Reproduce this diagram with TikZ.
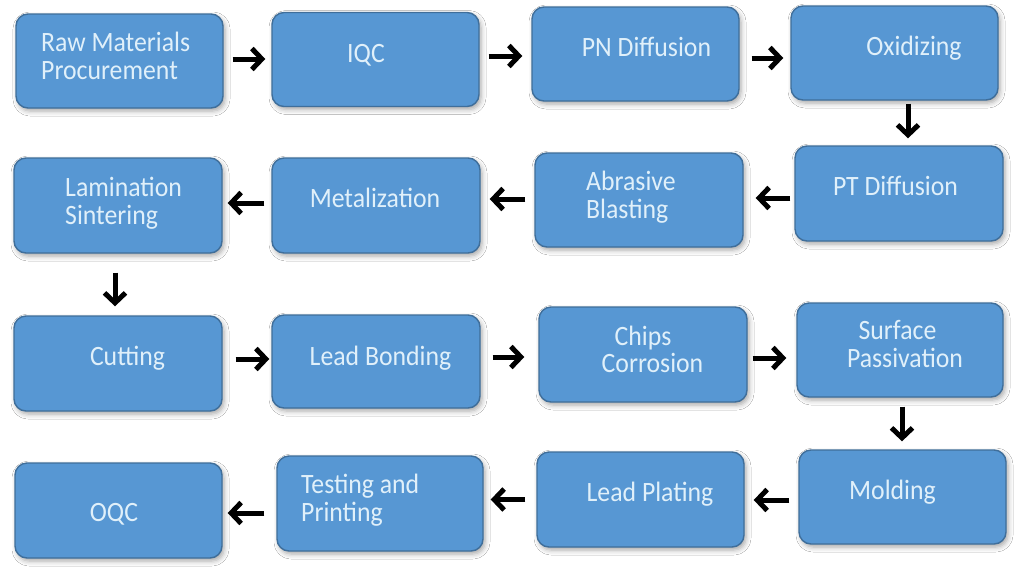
\documentclass[tikz,border=0pt]{standalone}
\usepackage{fontspec}
\setmainfont{Carlito}[FakeStretch=0.92]
\usetikzlibrary{arrows.meta,calc,shadows.blur}
\definecolor{boxfill}{HTML}{5797D3}
\definecolor{boxline}{HTML}{3F6E9A}
\definecolor{boxtext}{HTML}{E0F0FA}
\tikzset{
  procbox/.style={draw=boxline, line width=1.4pt, fill=boxfill, rounded corners=12pt,
    minimum width=207pt, minimum height=94pt, inner sep=0pt,
    blur shadow={shadow xshift=2pt, shadow yshift=-3pt, shadow blur radius=5pt, shadow opacity=35}},
  txt/.style={text=boxtext, font=\fontsize{28}{28}\selectfont, inner sep=0pt, yshift=-6.5pt},
  arr/.style={line width=5pt, -{Straight Barb[length=10pt,width=21pt,line width=5pt]}}
}
\begin{document}
\begin{tikzpicture}[x=1pt,y=-1pt]
\useasboundingbox[fill=white] (0,0) rectangle (1024,568);
% boxes
\node[procbox] (rm)   at (119.5,61)   {};
\node[procbox] (iqc)  at (375.5,59.5) {};
\node[procbox] (pn)   at (635.5,54)   {};
\node[procbox] (ox)   at (894.5,53)   {};
\node[procbox, minimum width=208pt, minimum height=95pt] (pt)   at (899,193.5)  {};
\node[procbox, minimum width=208pt] (ab)   at (639,200)    {};
\node[procbox, minimum width=208pt, minimum height=95pt] (met)  at (376,205.5)  {};
\node[procbox, minimum width=208pt, minimum height=95pt] (lam)  at (118,205.5)  {};
\node[procbox, minimum width=208pt, minimum height=95pt] (cut)  at (118,363.5)  {};
\node[procbox, minimum width=208pt, minimum height=93pt] (lb)   at (376,361.5)  {};
\node[procbox, minimum width=208pt, minimum height=95pt] (cc)   at (643,354.5)  {};
\node[procbox, minimum width=206pt] (sp)   at (900,350)    {};
\node[procbox] (mold) at (902.5,497)  {};
\node[procbox, minimum height=95pt] (lp)   at (640.5,499.5) {};
\node[procbox, minimum width=206pt, minimum height=95pt] (tp)   at (380,503.5)  {};
\node[procbox, minimum height=95pt] (oqc)  at (118.5,510.5) {};
% texts
\node[txt, anchor=mid west] (rm-t1) at (41,43) {Raw Materials};
\node[txt, anchor=mid west] (rm-t2) at (41,71) {Procurement};
\node[txt, anchor=mid] (iqc-t) at (366,54) {IQC};
\node[txt, anchor=mid] (pn-t) at (646.5,48) {PN Diffusion};
\node[txt, anchor=mid] (ox-t) at (914,47) {Oxidizing};
\node[txt, anchor=mid] (pt-t) at (895.5,187) {PT Diffusion};
\node[txt, anchor=mid west] (ab-t1) at (586,182) {Abrasive};
\node[txt, anchor=mid west] (ab-t2) at (586,210) {Blasting};
\node[txt, anchor=mid] (met-t) at (375,199) {Metalization};
\node[txt, anchor=mid west] (lam-t1) at (65,188) {Lamination};
\node[txt, anchor=mid west] (lam-t2) at (65,216) {Sintering};
\node[txt, anchor=mid] (cut-t) at (127.5,357) {Cutting};
\node[txt, anchor=mid] (lb-t) at (380.5,357) {Lead Bonding};
\node[txt, anchor=mid] (cc-t1) at (643,337) {Chips};
\node[txt, anchor=mid] (cc-t2) at (652.5,364) {Corrosion};
\node[txt, anchor=mid] (sp-t1) at (897.5,331) {Surface};
\node[txt, anchor=mid] (sp-t2) at (905,359) {Passivation};
\node[txt, anchor=mid] (mold-t) at (892.5,491) {Molding};
\node[txt, anchor=mid] (lp-t) at (650,493) {Lead Plating};
\node[txt, anchor=mid west] (tp-t1) at (301,485) {Testing and};
\node[txt, anchor=mid west] (tp-t2) at (301,513) {Printing};
\node[txt, anchor=mid] (oqc-t) at (114,513) {OQC};
% arrows
\draw[arr] ($(rm.east)+(9,-2)$) -- ($(rm.east -| iqc.west)+(-6,-2)$);
\draw[arr] ($(iqc.east)+(9,-3.5)$) -- ($(iqc.east -| pn.west)+(-9,-3.5)$);
\draw[arr] ($(pn.east)+(12,4)$) -- ($(pn.east -| ox.west)+(-7,4)$);
\draw[arr] ($(ox.south)+(13.5,3)$) -- ($(ox.south |- pt.north)+(13.5,-7)$);
\draw[arr] ($(pt.west)+(-4,4.5)$) -- ($(pt.west -| ab.east)+(12,4.5)$);
\draw[arr] ($(ab.west)+(-9,-1)$) -- ($(ab.west -| met.east)+(9,-1)$);
\draw[arr] ($(met.west)+(-7,-2.5)$) -- ($(met.west -| lam.east)+(5,-2.5)$);
\draw[arr] ($(lam.south)+(-3,19)$) -- ($(lam.south |- cut.north)+(-3,-9)$);
\draw[arr] ($(cut.east)+(13,-4.5)$) -- ($(cut.east -| lb.west)+(-2,-4.5)$);
\draw[arr] ($(lb.east)+(12,-4.5)$) -- ($(lb.east -| cc.west)+(-14,-4.5)$);
\draw[arr] ($(cc.east)+(5,3.5)$) -- ($(cc.east -| sp.west)+(-10,3.5)$);
\draw[arr] ($(sp.south)+(2,9)$) -- ($(sp.south |- mold.north)+(2,-8)$);
\draw[arr] ($(mold.west)+(-9,3)$) -- ($(mold.west -| lp.east)+(9,3)$);
\draw[arr] ($(lp.west)+(-11,0)$) -- ($(lp.west -| tp.east)+(7,0)$);
\draw[arr] ($(tp.west)+(-12,9.5)$) -- ($(tp.west -| oqc.east)+(5,9.5)$);
\end{tikzpicture}
\end{document}
